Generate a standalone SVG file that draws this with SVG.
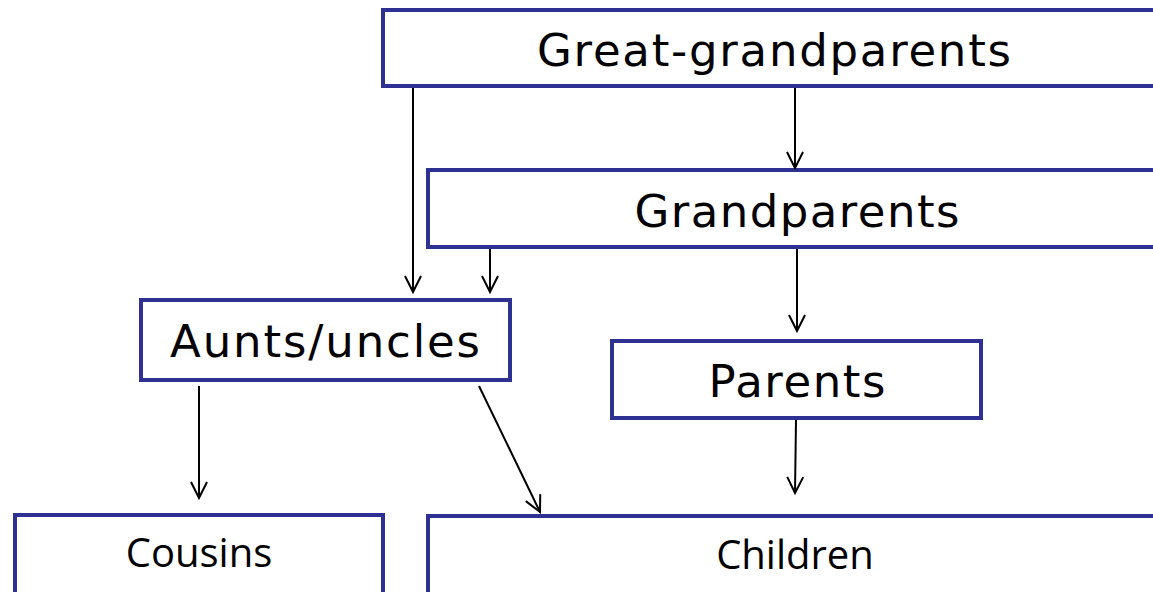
<svg xmlns="http://www.w3.org/2000/svg" width="1153" height="592" viewBox="0 0 1153 592">
<defs>
<style>
.box{fill:#fff;stroke:#2e3192;stroke-width:4}
.big{font-family:"DejaVu Sans",Verdana,sans-serif;font-size:45px;fill:#000;text-anchor:middle}
.small{font-family:"Open Sans","Liberation Sans",sans-serif;font-size:40px;fill:#000;text-anchor:middle}
.conn line{stroke:#000;stroke-width:2;marker-end:url(#ah)}
</style>
<marker id="ah" viewBox="0 0 20 20" refX="18" refY="10" markerWidth="20" markerHeight="20" markerUnits="userSpaceOnUse" orient="auto">
<path d="M2,2 L18,10 L2,18" fill="none" stroke="#000" stroke-width="2"/>
</marker>
</defs>
<rect width="1153" height="592" fill="#fff"/>
<g id="great-grandparents"><rect class="box" x="383" y="10" width="790" height="76"/><text class="big" x="774" y="66" textLength="474" lengthAdjust="spacing">Great-grandparents</text></g>
<g id="grandparents"><rect class="box" x="428" y="170" width="745" height="77"/><text class="big" x="797" y="227" textLength="325" lengthAdjust="spacing">Grandparents</text></g>
<g id="aunts-uncles"><rect class="box" x="141" y="300" width="369" height="80"/><text class="big" x="325" y="357" textLength="310" lengthAdjust="spacing">Aunts/uncles</text></g>
<g id="parents"><rect class="box" x="612" y="341" width="369" height="77"/><text class="big" x="797" y="397" textLength="177" lengthAdjust="spacing">Parents</text></g>
<g id="cousins"><rect class="box" x="15" y="515" width="368" height="90"/><text class="small" x="199" y="567">Cousins</text></g>
<g id="children"><rect class="box" x="428" y="516" width="745" height="90"/><text class="small" x="795" y="569">Children</text></g>
<g class="conn">
<line x1="413" y1="88" x2="413" y2="292"/>
<line x1="795" y1="88" x2="795" y2="168"/>
<line x1="490" y1="249" x2="490" y2="292"/>
<line x1="797" y1="249" x2="797" y2="331"/>
<line x1="199" y1="386" x2="199" y2="498"/>
<line x1="479" y1="386" x2="540" y2="512"/>
<line x1="796" y1="420" x2="795" y2="493"/>
</g>
</svg>
